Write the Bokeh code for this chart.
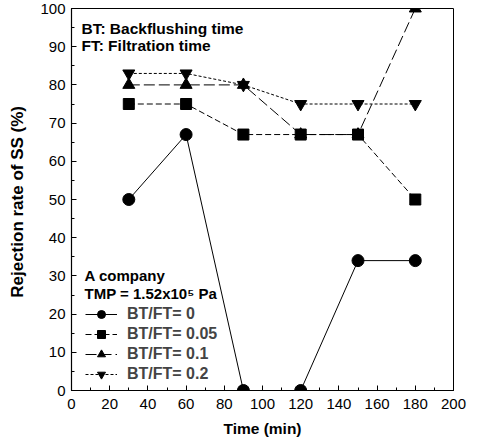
from bokeh.plotting import figure
from bokeh.models import Legend, LegendItem, Label, Range1d, FixedTicker
from bokeh.embed import file_html
from bokeh.resources import INLINE

time = [30, 60, 90, 120, 150, 180]
r0 = [50, 67, 0, 0, 34, 34]
r005 = [75, 75, 67, 67, 67, 50]
r01 = [80, 80, 80, 67, 67, 100]
r02 = [83, 83, 80, 75, 75, 75]
labels = ["BT/FT= 0", "BT/FT= 0.05", "BT/FT= 0.1", "BT/FT= 0.2"]
x_ticks = list(range(0, 201, 20))
y_ticks = list(range(0, 101, 10))

FONT = "Liberation Sans"

p = figure(width=477, height=443, output_backend="svg", toolbar_location=None,
           x_range=Range1d(0, 200), y_range=Range1d(0, 100),
           min_border_left=71, min_border_right=24, min_border_top=8, min_border_bottom=53)
p.grid.visible = False
p.outline_line_color = "black"
p.outline_line_width = 1

for ax in (p.xaxis[0], p.yaxis[0]):
    ax.major_tick_in = 5
    ax.major_tick_out = 0
    ax.minor_tick_in = 3
    ax.minor_tick_out = 0
    ax.axis_line_width = 1.2
    ax.major_label_text_font = FONT
    ax.major_label_text_font_size = "15px"
    ax.major_label_text_color = "black"
    ax.axis_label_text_font = FONT
    ax.axis_label_text_font_style = "bold"
    ax.axis_label_text_color = "black"

p.xaxis.axis_label_text_font_size = "15.5px"
p.yaxis.axis_label_text_font_size = "17px"
p.xaxis.ticker = FixedTicker(ticks=x_ticks, minor_ticks=list(range(0, 201, 10)))
p.yaxis.ticker = FixedTicker(ticks=y_ticks, minor_ticks=list(range(0, 101, 5)))
p.xaxis.axis_label = "Time (min)"
p.yaxis.axis_label = "Rejection  rate of SS (%)"
p.xaxis.major_label_standoff = 8
p.yaxis.major_label_standoff = 6
p.yaxis.axis_label_standoff = 10
p.xaxis.axis_label_standoff = 8

series = [
    (r0, "circle", "solid", 12),
    (r005, "square", "6 3", 11),
    (r01, "triangle", "11 4", 12),
    (r02, "inverted_triangle", "3 2", 12),
]
items = []
for (vals, marker, dash, sz), lab in zip(series, labels):
    l = p.line(time, vals, line_color="black", line_width=1, line_dash=dash)
    s = p.scatter(time, vals, marker=marker, size=sz, fill_color="black", line_color="black")
    items.append(LegendItem(label=lab, renderers=[l, s]))

legend = Legend(items=items, location=(14, 6), orientation="vertical",
                background_fill_alpha=0, border_line_alpha=0,
                padding=0, margin=0, spacing=0,
                glyph_width=32, glyph_height=20, label_height=20,
                label_standoff=10,
                label_text_font=FONT, label_text_font_style="bold",
                label_text_font_size="16px")
p.add_layout(legend, "center")

def add_label(x, y, txt, size="15px"):
    p.add_layout(Label(x=x, y=y, text=txt, text_font=FONT, text_font_style="bold",
                       text_font_size=size, text_baseline="middle", text_color="black"))

add_label(5.2, 94.8, "BT: Backflushing time", "15.5px")
add_label(5.2, 90.3, "FT: Filtration time", "15.5px")
add_label(6.8, 30, "A company", "15px")
add_label(6.8, 25.3, "TMP = 1.52x10\u2075 Pa", "15px")

open("out.html", "w").write(file_html(p, INLINE))
